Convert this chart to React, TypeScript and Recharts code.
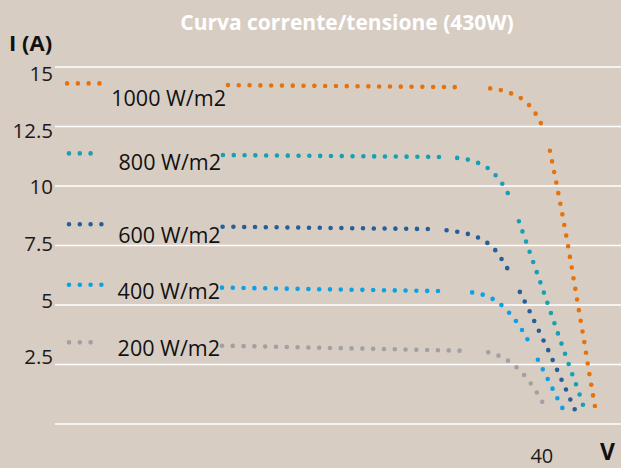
import React from "react"
import { CartesianGrid, LabelList, Line, LineChart, XAxis, YAxis } from "recharts"

const title = "Curva corrente/tensione (430W)"
const yTicks = [0, 2.5, 5, 7.5, 10, 12.5, 15]
const xTicks = [40]

const curveNames = ["1000 W/m2", "800 W/m2", "600 W/m2", "400 W/m2", "200 W/m2"]
const curveColors = ["#e6720c", "#15a0b4", "#265e98", "#0ca1e6", "#a1a1a4"]

// tensione (V) / corrente (A); null = interruzione della curva
const v1000 = [0.99, 3.78, 9, 14.21, 33.68, 34.7, 35.75, 36.63, 37.48, 38.25, 38.91, 39.45, 39.89, 40.19, 40.4, 40.66, 41.18, 41.67, 42.14, 42.57, 43.01, 43.45, 43.86, 44.3, 44.46]
const i1000 = [14.31, 14.31, null, 14.24, 14.15, null, 14.1, 14.03, 13.89, 13.7, 13.42, 13.07, 12.68, 12.27, null, 11.48, 10.16, 8.84, 7.52, 6.21, 4.87, 3.56, 2.23, 0.91, 0.46]

const v800 = [1.15, 3.78, 9, 13.8, 31.73, 32.4, 33.04, 33.92, 34.77, 35.54, 36.2, 36.74, 37.18, 37.56, 37.8, 38.11, 38.99, 39.86, 40.71, 41.56, 42.44, 43.04, 43.59]
const i800 = [11.37, 11.37, null, 11.3, 11.22, null, 11.18, 11.11, 10.97, 10.76, 10.45, 10.1, 9.72, 9.3, null, 8.52, 7.24, 5.97, 4.71, 3.45, 2.17, 1.33, 0.47]

const v600 = [1.15, 3.94, 9, 13.77, 30.88, 31.5, 32.17, 33.02, 33.84, 34.66, 35.4, 36.06, 36.57, 37.04, 37.45, 37.8, 38.19, 39.01, 39.78, 40.55, 41.29, 42.03, 42.77]
const i600 = [8.39, 8.39, null, 8.29, 8.19, null, 8.14, 8.08, 8.0, 7.86, 7.66, 7.38, 7.03, 6.65, 6.27, null, 5.55, 4.72, 3.89, 3.07, 2.23, 1.39, 0.53]

const v400 = [1.15, 3.94, 9, 13.72, 32.11, 33.2, 34.27, 35.18, 36.03, 36.74, 37.4, 37.95, 38.46, 38.91, 39.3, 39.67, 40.52, 41.34, 41.78]
const i400 = [5.85, 5.85, null, 5.73, 5.58, null, 5.53, 5.43, 5.24, 4.97, 4.63, 4.27, 3.88, 3.47, null, 2.7, 1.85, 1.01, 0.58]

const v200 = [1.15, 3.78, 9, 13.72, 33.43, 34.5, 35.59, 36.44, 37.23, 37.92, 38.55, 39.1, 39.59, 40.02, 40.44]
const i200 = [3.43, 3.43, null, 3.29, 3.08, null, 3.01, 2.87, 2.66, 2.38, 2.05, 1.69, 1.32, 0.94, 0.55]

const curveV = [v1000, v800, v600, v400, v200]
const curveI = [i1000, i800, i600, i400, i200]

const labelDy = [12, 6, 8, 3, 2]

const font = "'Open Sans', 'Noto Sans', sans-serif"
const bg = "#d8cdc3"

function YTick(props: any) {
  const { x, y, payload } = props
  if (payload.value === 0) return <g />
  const shift = -11 + payload.value * 1.13
  return (
    <text x={x} y={y + shift} textAnchor="end" dominantBaseline="central" fill="#1a1a1a" fontSize={20.5} fontFamily={font}>
      {payload.value}
    </text>
  )
}

function curveLabel(name: string, dy: number) {
  return (props: any) => {
    const { x, y, index } = props
    if (index !== 3) return null
    return (
      <text x={x - 2} y={y + dy} textAnchor="end" dominantBaseline="central" fill="#111" fontSize={21.5} fontFamily={font}>
        {name}
      </text>
    )
  }
}

export default function App() {
  return (
    <div style={{ position: "relative", width: 621, height: 468, background: bg, fontFamily: font, overflow: "hidden" }}>
      <style>{`body{margin:0}`}</style>
      <LineChart width={621} height={468} margin={{ top: 67, right: 0, bottom: 0, left: 0 }}>
        <CartesianGrid vertical={false} stroke="#ffffff" strokeWidth={1.5} />
        <XAxis
          dataKey="v"
          type="number"
          domain={[0, 46.5]}
          ticks={xTicks}
          height={44}
          axisLine={false}
          tickLine={false}
          tickMargin={19}
          tick={{ fontSize: 20, fill: "#1a1a1a", fontFamily: font }}
          allowDuplicatedCategory={false}
        />
        <YAxis
          type="number"
          domain={[0, 15]}
          ticks={yTicks}
          width={55}
          axisLine={false}
          tickLine={false}
          tickSize={0}
          tickMargin={2}
          tick={<YTick />}
        />
        {curveNames.map((name, k) => (
          <Line
            key={name}
            data={curveV[k].map((v, j) => ({ v, i: curveI[k][j] }))}
            dataKey="i"
            type="linear"
            stroke={curveColors[k]}
            strokeWidth={4.6}
            strokeDasharray="0 10.8"
            strokeLinecap="round"
            dot={false}
            activeDot={false}
            connectNulls={false}
            isAnimationActive={false}
          >
            <LabelList dataKey="i" content={curveLabel(name, labelDy[k])} />
          </Line>
        ))}
      </LineChart>
      <div style={{ position: "absolute", left: 347, top: 9, transform: "translateX(-50%)", color: "#fff", fontWeight: 700, fontSize: 21, lineHeight: "26px", whiteSpace: "nowrap" }}>
        {title}
      </div>
      <div style={{ position: "absolute", left: 9, top: 29, color: "#111", fontWeight: 700, fontSize: 22, lineHeight: "26px" }}>I (A)</div>
      <div style={{ position: "absolute", left: 600, top: 439, color: "#111", fontWeight: 700, fontSize: 23, lineHeight: "25px" }}>V</div>
    </div>
  )
}
